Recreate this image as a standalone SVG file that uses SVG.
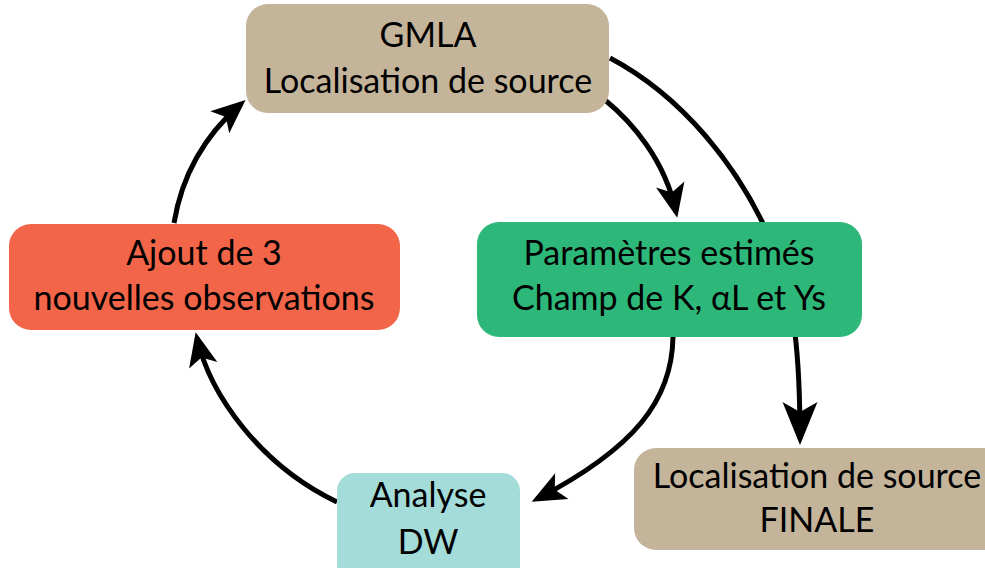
<svg xmlns="http://www.w3.org/2000/svg" width="985" height="568" viewBox="0 0 985 568">
<style>
.lbl{font-family:"Lato","Liberation Sans",sans-serif;font-size:34px;fill:#000;text-anchor:middle}
.con{fill:none;stroke:#000;stroke-width:5}
</style>
<defs>
<marker id="ah" markerUnits="userSpaceOnUse" orient="auto" markerWidth="80" markerHeight="80" refX="0" refY="0" overflow="visible">
<path d="M6,0 L-28,-14.5 L-20,0 L-28,14.5 Z" fill="#000"/>
</marker>
<marker id="ahBig" markerUnits="userSpaceOnUse" orient="auto" markerWidth="80" markerHeight="80" refX="0" refY="0" overflow="visible">
<path d="M6,0 L-37,-17.5 L-27,0 L-37,17.5 Z" fill="#000"/>
</marker>
</defs>
<rect width="985" height="568" fill="#fff"/>
<g id="connectors">
<path class="con" d="M605,100 C632,122 665,160 676,212" marker-end="url(#ah)"/>
<path class="con" d="M610,58 C680,95 740,165 775,250 C795,300 800,360 800,439" marker-end="url(#ahBig)"/>
<path class="con" d="M673,337 C672,400 635,448 537,499" marker-end="url(#ah)"/>
<path class="con" d="M337,502 C260,465 210,395 197,338" marker-end="url(#ah)"/>
<path class="con" d="M174,223 C182,175 205,135 241,104" marker-end="url(#ah)"/>
</g>
<g id="gmla">
<rect x="246" y="4" width="363" height="109" rx="22" fill="#C4B49A"/>
<text class="lbl" x="428" y="47">GMLA</text>
<text class="lbl" x="428" y="93">Localisation de source</text>
</g>
<g id="parametres">
<rect x="477" y="222" width="385" height="115" rx="22" fill="#2DB87A"/>
<text class="lbl" x="669" y="265">Paramètres estimés</text>
<text class="lbl" x="669" y="310">Champ de K, αL et Ys</text>
</g>
<g id="ajout">
<rect x="9" y="224" width="391" height="106" rx="22" fill="#F26548"/>
<text class="lbl" x="204" y="265">Ajout de 3</text>
<text class="lbl" x="204" y="310">nouvelles observations</text>
</g>
<g id="analyse">
<rect x="337" y="473" width="183" height="110" rx="18" fill="#A3DCD8"/>
<text class="lbl" x="428" y="507">Analyse</text>
<text class="lbl" x="428" y="554">DW</text>
</g>
<g id="finale">
<rect x="634" y="448" width="380" height="102" rx="22" fill="#C4B49A"/>
<text class="lbl" x="817" y="488">Localisation de source</text>
<text class="lbl" x="817" y="532">FINALE</text>
</g>
</svg>
